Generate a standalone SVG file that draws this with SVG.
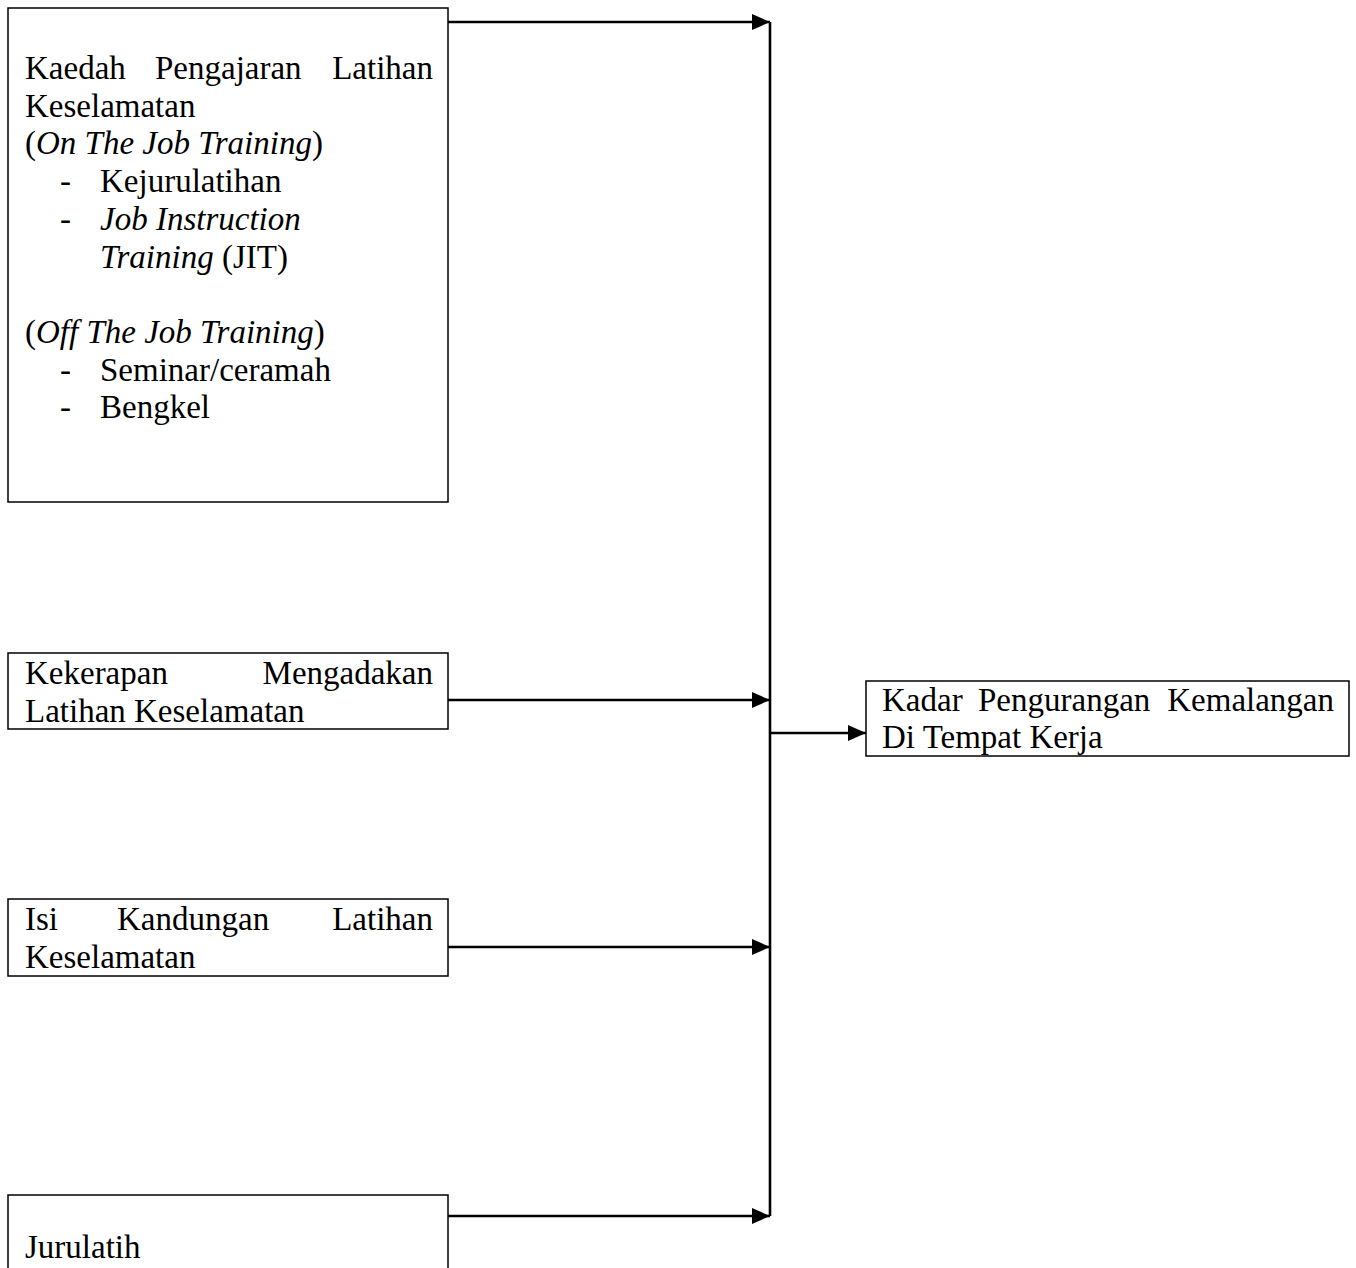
<svg xmlns="http://www.w3.org/2000/svg" width="1356" height="1268" viewBox="0 0 1356 1268">
<style>
.box{fill:#fff;stroke:#000;stroke-width:1.5}
.t{font-family:"Liberation Serif","Times New Roman",serif;font-size:33px;fill:#000}
.i{font-style:italic}
.c{stroke:#000;stroke-width:2.6;fill:none}
</style>
<defs>
<marker id="ah" markerWidth="18" markerHeight="16" refX="18" refY="8" orient="auto" markerUnits="userSpaceOnUse">
<path d="M0,0 L18,8 L0,16 Z" fill="#000"/>
</marker>
</defs>
<rect width="1356" height="1268" fill="#fff"/>
<g id="n1">
<rect class="box" x="8" y="8" width="440" height="494"/>
<text class="t" x="25" y="79">Kaedah</text>
<text class="t" x="155" y="79">Pengajaran</text>
<text class="t" x="433" y="79" text-anchor="end">Latihan</text>
<text class="t" x="25" y="117">Keselamatan</text>
<text class="t" x="25" y="154">(<tspan class="i">On The Job Training</tspan>)</text>
<text class="t" x="60" y="192">-</text>
<text class="t" x="100" y="192">Kejurulatihan</text>
<text class="t" x="60" y="230">-</text>
<text class="t i" x="100" y="230">Job Instruction</text>
<text class="t" x="100" y="268"><tspan class="i">Training</tspan> (JIT)</text>
<text class="t" x="25" y="343">(<tspan class="i">Off The Job Training</tspan>)</text>
<text class="t" x="60" y="381">-</text>
<text class="t" x="100" y="381">Seminar/ceramah</text>
<text class="t" x="60" y="418">-</text>
<text class="t" x="100" y="418">Bengkel</text>
</g>
<g id="n2">
<rect class="box" x="8" y="653" width="440" height="76"/>
<text class="t" x="25" y="684">Kekerapan</text>
<text class="t" x="433" y="684" text-anchor="end">Mengadakan</text>
<text class="t" x="25" y="722">Latihan Keselamatan</text>
</g>
<g id="n3">
<rect class="box" x="8" y="899" width="440" height="77"/>
<text class="t" x="25" y="930">Isi</text>
<text class="t" x="117" y="930">Kandungan</text>
<text class="t" x="433" y="930" text-anchor="end">Latihan</text>
<text class="t" x="25" y="968">Keselamatan</text>
</g>
<g id="n4">
<rect class="box" x="8" y="1195" width="440" height="90"/>
<text class="t" x="25" y="1258">Jurulatih</text>
</g>
<g id="n5">
<rect class="box" x="866" y="681" width="483" height="75"/>
<text class="t" x="882" y="711">Kadar</text>
<text class="t" x="978" y="711">Pengurangan</text>
<text class="t" x="1334" y="711" text-anchor="end">Kemalangan</text>
<text class="t" x="882" y="748">Di Tempat Kerja</text>
</g>
<g id="connectors">
<line class="c" x1="770" y1="22" x2="770" y2="1216"/>
<line class="c" x1="448" y1="22" x2="770" y2="22" marker-end="url(#ah)"/>
<line class="c" x1="448" y1="700" x2="770" y2="700" marker-end="url(#ah)"/>
<line class="c" x1="448" y1="947" x2="770" y2="947" marker-end="url(#ah)"/>
<line class="c" x1="448" y1="1216" x2="770" y2="1216" marker-end="url(#ah)"/>
<line class="c" x1="770" y1="733" x2="866" y2="733" marker-end="url(#ah)"/>
</g>
</svg>
